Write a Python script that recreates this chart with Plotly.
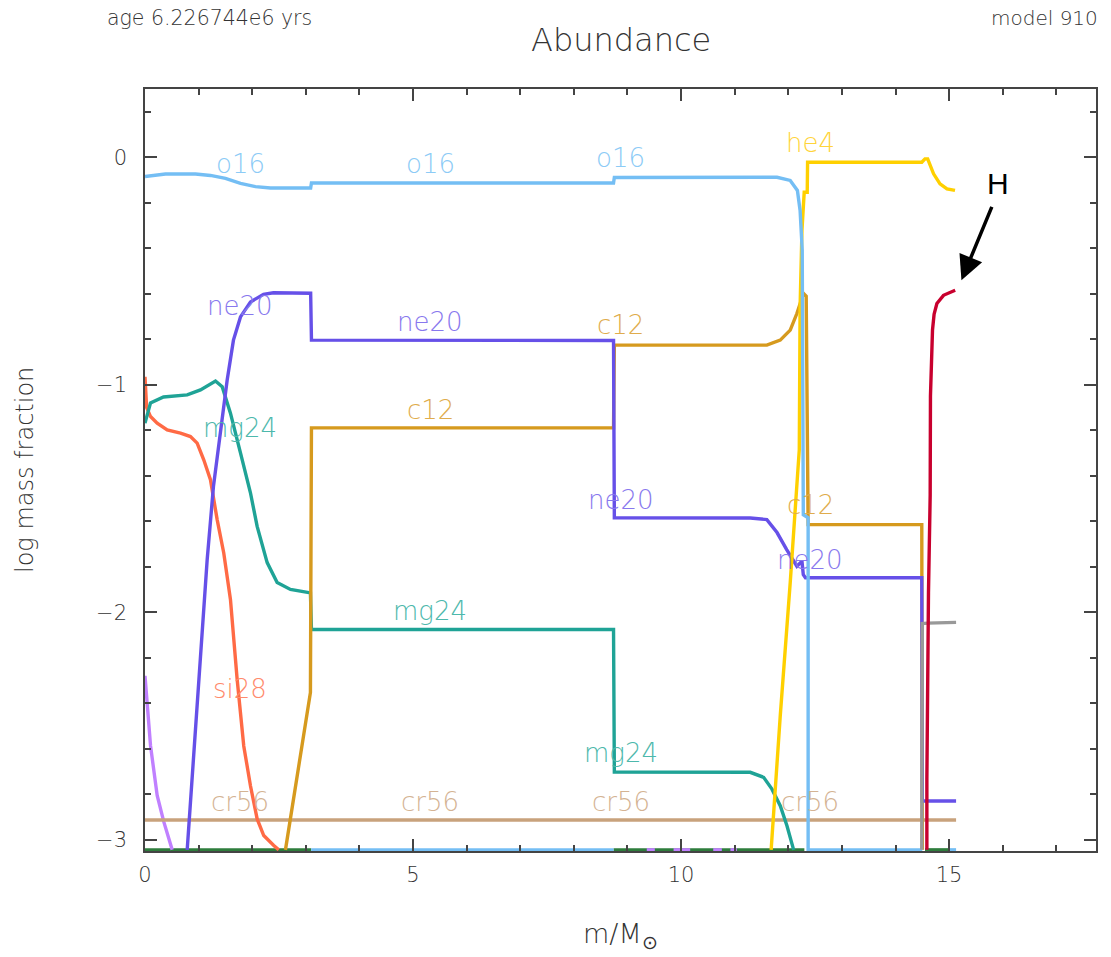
import plotly.graph_objects as go

FLOOR = -3.045

# ---- data ----
o16_x = [0, 0.382, 0.942, 1.221, 1.501, 1.781, 2.06, 2.34, 3.09, 3.105, 8.74, 8.755, 11.79, 12.036, 12.17, 12.22, 12.26, 12.28, 12.37, 12.37, 14.5]
o16_y = [-0.085, -0.074, -0.074, -0.08, -0.093, -0.115, -0.129, -0.135, -0.135, -0.113, -0.113, -0.089, -0.088, -0.102, -0.146, -0.234, -0.409, -1.572, -1.585, FLOOR, FLOOR]

ne20_x = [0.787, 0.973, 1.16, 1.277, 1.408, 1.533, 1.65, 1.781, 1.967, 2.21, 2.396, 3.09, 3.105, 8.74, 8.755, 11.29, 11.6, 11.79, 11.97, 12.16, 12.255, 12.28, 12.32, 14.49, 14.5, 14.55, 15.13]
ne20_y = [FLOOR, -2.383, -1.769, -1.447, -1.199, -0.979, -0.804, -0.702, -0.636, -0.603, -0.596, -0.598, -0.804, -0.806, -1.585, -1.586, -1.593, -1.65, -1.725, -1.798, -1.776, -1.835, -1.849, -1.849, -2.83, -2.83, -2.83]

mg24_x = [0, 0.103, 0.345, 0.787, 1.035, 1.315, 1.44, 1.594, 1.781, 1.967, 2.092, 2.279, 2.465, 2.713, 3.086, 3.105, 8.74, 8.755, 11.29, 11.54, 11.695, 11.85, 11.975, 12.1]
mg24_y = [-1.169, -1.08, -1.054, -1.045, -1.023, -0.984, -1.009, -1.125, -1.3, -1.475, -1.623, -1.782, -1.87, -1.9, -1.915, -2.076, -2.076, -2.703, -2.704, -2.726, -2.778, -2.851, -2.939, FLOOR]

c12_x = [2.62, 2.713, 2.838, 2.961, 3.086, 3.105, 8.74, 8.755, 11.6, 11.85, 12.036, 12.16, 12.22, 12.284, 12.334, 12.37, 14.49, 14.5]
c12_y = [FLOOR, -2.909, -2.734, -2.558, -2.353, -1.19, -1.19, -0.826, -0.826, -0.804, -0.76, -0.687, -0.642, -0.599, -0.611, -1.615, -1.615, FLOOR]

he4_x = [11.68, 11.85, 12.036, 12.205, 12.22, 12.255, 12.297, 12.353, 12.36, 14.49, 14.55, 14.6, 14.71, 14.83, 14.96, 15.11]
he4_y = [FLOOR, -2.456, -1.87, -1.286, -0.658, -0.321, -0.154, -0.154, -0.022, -0.022, -0.007, -0.007, -0.073, -0.117, -0.139, -0.146]

si28_x = [0, 0.03, 0.103, 0.227, 0.414, 0.662, 0.848, 0.973, 1.096, 1.221, 1.346, 1.469, 1.594, 1.719, 1.842, 1.967, 2.092, 2.215, 2.402, 2.495]
si28_y = [-0.965, -1.1, -1.14, -1.169, -1.199, -1.213, -1.228, -1.257, -1.33, -1.418, -1.593, -1.74, -1.944, -2.295, -2.588, -2.763, -2.909, -2.982, -3.026, FLOOR]

cr56_x = [0, 15.13]
cr56_y = [-2.914, -2.914]

h1_x = [14.585, 14.585, 14.615, 14.647, 14.652, 14.668, 14.69, 14.72, 14.772, 14.895, 15.113]
h1_y = [FLOOR, -2.734, -1.915, -1.484, -1.05, -0.88, -0.76, -0.69, -0.643, -0.607, -0.585]

gray_x = [14.49, 14.5, 14.6, 15.13]
gray_y = [FLOOR, -2.05, -2.048, -2.045]

lpurple_x = [0, 0.103, 0.227, 0.351, 0.507, None, 9.36, 9.51, None, 9.86, 10.17, None, 10.6, 10.76, None, 10.92, 11.04]
lpurple_y = [-2.28, -2.587, -2.806, -2.922, FLOOR, None, FLOOR, FLOOR, None, FLOOR, FLOOR, None, FLOOR, FLOOR, None, FLOOR, FLOOR]

green_x = [0, 3.1, None, 8.74, 12.3, None, 14.55, 14.98]
green_y = [FLOOR, FLOOR, None, FLOOR, FLOOR, None, FLOOR, FLOOR]

lblue_x = [3.1, 8.74, None, 14.98, 15.13]
lblue_y = [FLOOR, FLOOR, None, FLOOR, FLOOR]

# labels
label_text = ["o16", "o16", "o16", "he4", "ne20", "ne20", "ne20", "ne20", "c12", "c12", "c12",
              "mg24", "mg24", "mg24", "si28", "cr56", "cr56", "cr56", "cr56"]
label_x = [1.78, 5.32, 8.87, 12.41, 1.78, 5.32, 8.87, 12.41, 5.32, 8.87, 12.41,
           1.78, 5.32, 8.87, 1.78, 1.78, 5.32, 8.87, 12.41]
label_y = [-0.028, -0.028, -0.005, 0.064, -0.655, -0.725, -1.506, -1.769, -1.111, -0.738, -1.528,
           -1.19, -1.997, -2.62, -2.339, -2.835, -2.835, -2.835, -2.835]

C = {
    "o16": "#74BEF4", "ne20": "#6650E8", "mg24": "#1FA396", "c12": "#D69A1E",
    "he4": "#FFD000", "si28": "#FF6A45", "cr56": "#C8A27C", "h1": "#C8002E",
    "gray": "#999999", "green": "#2E7D3C", "lpurple": "#C080FF",
}
LC = {"o16": "#8CCBF6", "ne20": "#8878EE", "mg24": "#4DB8AC", "c12": "#E0AC4C",
      "he4": "#FFD43A", "si28": "#FF8A6C", "cr56": "#D4B393"}

fig = go.Figure()

def add(x, y, col):
    fig.add_trace(go.Scatter(x=x, y=y, mode="lines", line=dict(color=col, width=3.4),
                             showlegend=False, hoverinfo="skip"))

add(green_x, green_y, C["green"])
add(lblue_x, lblue_y, C["o16"])
add(lpurple_x, lpurple_y, C["lpurple"])
add(cr56_x, cr56_y, C["cr56"])
add(si28_x, si28_y, C["si28"])
add(mg24_x, mg24_y, C["mg24"])
add(c12_x, c12_y, C["c12"])
add(ne20_x, ne20_y, C["ne20"])
add(he4_x, he4_y, C["he4"])
add(o16_x, o16_y, C["o16"])
add(gray_x, gray_y, C["gray"])
add(h1_x, h1_y, C["h1"])

FONT = "DejaVu Sans"
TXT = "#333333"

for t, x, y in zip(label_text, label_x, label_y):
    fig.add_annotation(x=x, y=y, xref="x", yref="y", text=t, showarrow=False,
                       font=dict(family=FONT, size=26, color=LC[t], weight=200))

# H arrow
fig.add_annotation(x=15.23, y=-0.541, xref="x", yref="y", text="", showarrow=True,
                   ax=31, ay=-75, arrowhead=2, arrowsize=1.4, arrowwidth=3.5, arrowcolor="black")
fig.add_annotation(x=15.23, y=-0.541, xref="x", yref="y", text="H", showarrow=False,
                   xshift=37, yshift=97, font=dict(family="Liberation Sans", size=30, color="black"))

# corner texts and axis titles
fig.add_annotation(x=0, y=1, xref="paper", yref="paper", text="age 6.226744e6 yrs", showarrow=False,
                   xanchor="left", yanchor="middle", xshift=-40, yshift=71,
                   font=dict(family=FONT, size=20.5, color=TXT, weight=200))
fig.add_annotation(x=1, y=1, xref="paper", yref="paper", text="model 910", showarrow=False,
                   xanchor="right", yanchor="middle", xshift=4, yshift=71,
                   font=dict(family=FONT, size=20, color=TXT, weight=200))
fig.add_annotation(x=0.5, y=1, xref="paper", yref="paper", text="Abundance", showarrow=False,
                   xanchor="center", yanchor="middle", yshift=49,
                   font=dict(family=FONT, size=32, color=TXT, weight=200))
fig.add_annotation(x=0, y=0.5, xref="paper", yref="paper", text="log mass fraction", showarrow=False,
                   textangle=-90, xanchor="center", yanchor="middle", xshift=-120,
                   font=dict(family=FONT, size=24, color=TXT, weight=200))
fig.add_annotation(x=0.5, y=0, xref="paper", yref="paper", text="m/M<sub>⊙</sub>", showarrow=False,
                   xanchor="center", yanchor="middle", yshift=-84,
                   font=dict(family=FONT, size=27, color=TXT, weight=200))

axis_common = dict(showgrid=False, zeroline=False, showline=True, linecolor="#444444", linewidth=1.5,
                   mirror="allticks", ticks="inside", tickcolor="#444444",
                   tickfont=dict(family=FONT, size=21, color=TXT, weight=200))

fig.update_layout(
    width=1111, height=957,
    margin=dict(l=145, r=15, t=89, b=106),
    paper_bgcolor="white", plot_bgcolor="white",
    xaxis=dict(range=[0, 17.74], tickvals=[0, 5, 10, 15], ticklen=12, tickwidth=1.5,
               ticklabelstandoff=4,
               minor=dict(dtick=1, ticks="inside", ticklen=6, tickcolor="#444444", tickwidth=1.5),
               **axis_common),
    yaxis=dict(range=[-3.05, 0.3], tickvals=[-3, -2, -1, 0], ticktext=["\u22123", "\u22122", "\u22121", "0"],
               ticklen=12, tickwidth=1.5, ticklabelstandoff=12,
               minor=dict(dtick=0.2, tick0=0, ticks="inside", ticklen=6, tickcolor="#444444", tickwidth=1.5),
               **axis_common),
)

fig.write_html("out.html")
